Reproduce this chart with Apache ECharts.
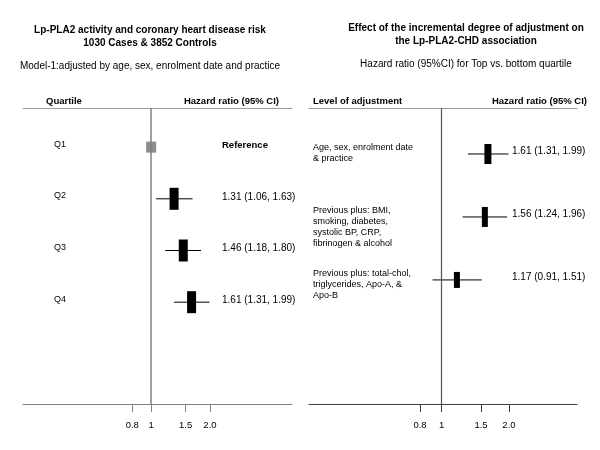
<!DOCTYPE html>
<html>
<head>
<meta charset="utf-8">
<script src="https://cdn.jsdelivr.net/npm/echarts@6/dist/echarts.min.js"></script>
<style>
  html, body { margin: 0; padding: 0; background: #fff; }
  #chart { width: 600px; height: 450px; }
</style>
</head>
<body>
<div id="chart"></div>
<script>
// left panel: quartiles of Lp-PLA2 activity
const quartiles = ['Q1', 'Q2', 'Q3', 'Q4'];
const qHR = [1, 1.31, 1.46, 1.61];
const qLow = [null, 1.06, 1.18, 1.31];
const qHigh = [null, 1.63, 1.80, 1.99];
const qText = ['Reference', '1.31 (1.06, 1.63)', '1.46 (1.18, 1.80)', '1.61 (1.31, 1.99)'];

// right panel: degree of adjustment
const levels = [
  'Age, sex, enrolment date\n& practice',
  'Previous plus: BMI,\nsmoking, diabetes,\nsystolic BP, CRP,\nfibrinogen & alcohol',
  'Previous plus: total-chol,\ntriglycerides, Apo-A, &\nApo-B'
];
const adjHR = [1.61, 1.56, 1.17];
const adjLow = [1.31, 1.24, 0.91];
const adjHigh = [1.99, 1.96, 1.51];
const adjText = ['1.61 (1.31, 1.99)', '1.56 (1.24, 1.96)', '1.17 (0.91, 1.51)'];

// x axis ticks
const tickValues = [0.8, 1, 1.5, 2];
const tickLabels = ['0.8', '1', '1.5', '2.0'];

// box sizes (px) - weights in the original plot
const qBox = [[10, 11], [9, 22], [9, 22], [9, 22]];
const adjBox = [[7, 20], [6, 20], [6, 16]];

const FONT = '"Liberation Sans", Arial, sans-serif';

const rowData = (hr, lo, hi) => hr.map((v, i) => [i, v, lo[i] == null ? '-' : lo[i], hi[i] == null ? '-' : hi[i]]);

// draws whisker, box, row label and hr text for one row
function forestRender(cfg) {
  return function (params, api) {
    const i = params.dataIndex;
    const cs = params.coordSys;
    const row = api.value(0);
    const mid = api.coord([api.value(1), row]);
    const lo = api.value(2), hi = api.value(3);
    const kids = [];
    const hasCI = isFinite(lo) && isFinite(hi);
    if (hasCI) {
      const a = api.coord([lo, row]);
      const b = api.coord([hi, row]);
      kids.push({
        type: 'line',
        shape: { x1: a[0], y1: a[1], x2: b[0], y2: b[1] },
        style: { stroke: '#000', lineWidth: 1 }
      });
    }
    const w = cfg.box[i][0], h = cfg.box[i][1];
    kids.push({
      type: 'rect',
      shape: { x: mid[0] - w / 2, y: mid[1] - h / 2, width: w, height: h },
      style: { fill: hasCI ? '#000' : '#8c8c8c' }
    });
    kids.push({
      type: 'text',
      x: cs.x + cfg.labelX,
      y: mid[1] + cfg.labelDy,
      style: {
        text: cfg.labels[i], fill: '#000', fontSize: 9, fontFamily: FONT,
        align: 'left', verticalAlign: cfg.labelVA, lineHeight: 11
      }
    });
    kids.push({
      type: 'text',
      x: cs.x + cfg.hrX,
      y: mid[1] + cfg.hrDy,
      style: {
        text: cfg.hrText[i], fill: '#000', fontFamily: FONT,
        fontSize: hasCI ? 10 : 9.5, fontWeight: hasCI ? 'normal' : 'bold',
        align: 'left', verticalAlign: 'middle'
      }
    });
    return { type: 'group', children: kids };
  };
}

function bottomAxis(grid, min, max, color) {
  return {
    type: 'log', logBase: 10, gridIndex: grid, min: min, max: max, position: 'bottom',
    axisLine: { onZero: false, lineStyle: { color: color, width: 1 } },
    axisTick: { customValues: tickValues, length: 8, lineStyle: { color: color } },
    axisLabel: {
      customValues: tickValues, margin: 16, color: '#000', fontSize: 9.5, fontFamily: FONT,
      formatter: v => {
        const k = tickValues.findIndex(t => Math.abs(t - v) < 1e-6);
        return k < 0 ? '' : tickLabels[k];
      }
    },
    splitLine: { show: false },
    minorTick: { show: false }
  };
}

function topAxis(grid, min, max) {
  return {
    type: 'log', logBase: 10, gridIndex: grid, min: min, max: max, position: 'top',
    axisLine: { onZero: false, lineStyle: { color: '#9a9a9a', width: 1 } },
    axisTick: { show: false }, axisLabel: { show: false }, splitLine: { show: false }
  };
}

const titleStyle = (size, weight, lh) => ({ fontSize: size, fontWeight: weight, fontFamily: FONT, color: '#000', lineHeight: lh });

const chart = echarts.init(document.getElementById('chart'));

const option = {
  animation: false,
  backgroundColor: '#fff',
  title: [
    { text: 'Lp-PLA2 activity and coronary heart disease risk\n1030 Cases & 3852 Controls', left: 150, top: 23.5, textAlign: 'center', padding: 0, textStyle: titleStyle(10, 'bold', 13) },
    { text: 'Model-1:adjusted by age, sex, enrolment date and practice', left: 150, top: 60.5, textAlign: 'center', padding: 0, textStyle: titleStyle(10, 'normal', 12) },
    { text: 'Quartile', left: 46, top: 95, padding: 0, textStyle: titleStyle(9.5, 'bold', 12) },
    { text: 'Hazard ratio (95% CI)', right: 321, top: 95, padding: 0, textStyle: titleStyle(9.5, 'bold', 12) },
    { text: 'Effect of the incremental degree of adjustment on\nthe Lp-PLA2-CHD association', left: 466, top: 21.5, textAlign: 'center', padding: 0, textStyle: titleStyle(10, 'bold', 13) },
    { text: 'Hazard ratio (95%CI) for Top vs. bottom quartile', left: 466, top: 58.5, textAlign: 'center', padding: 0, textStyle: titleStyle(10, 'normal', 12) },
    { text: 'Level of adjustment', left: 313, top: 95, padding: 0, textStyle: titleStyle(9.5, 'bold', 12) },
    { text: 'Hazard ratio (95% CI)', right: 13, top: 95, padding: 0, textStyle: titleStyle(9.5, 'bold', 12) }
  ],
  grid: [
    { left: 23, right: 308, top: 108, bottom: 46 },
    { left: 309, right: 23, top: 108, bottom: 46 }
  ],
  xAxis: [
    bottomAxis(0, 0.2207, 5.26, '#808080'),
    topAxis(0, 0.2207, 5.26),
    bottomAxis(1, 0.255, 4.03, '#404040'),
    topAxis(1, 0.255, 4.03)
  ],
  yAxis: [
    { type: 'value', gridIndex: 0, inverse: true, min: -0.757, max: 4.97, show: false },
    { type: 'value', gridIndex: 1, inverse: true, min: -0.73, max: 3.97, show: false }
  ],
  series: [
    {
      type: 'custom',
      xAxisIndex: 0, yAxisIndex: 0,
      encode: { x: [1, 2, 3], y: 0 },
      data: rowData(qHR, qLow, qHigh),
      renderItem: forestRender({ box: qBox, labels: quartiles, hrText: qText, labelX: 31, labelDy: -3, labelVA: 'middle', hrX: 199, hrDy: -2 }),
      markLine: {
        silent: true, symbol: 'none', label: { show: false },
        lineStyle: { color: '#808080', width: 1.5, type: 'solid' },
        data: [{ xAxis: 1 }]
      }
    },
    {
      type: 'custom',
      xAxisIndex: 2, yAxisIndex: 1,
      encode: { x: [1, 2, 3], y: 0 },
      data: rowData(adjHR, adjLow, adjHigh),
      renderItem: forestRender({ box: adjBox, labels: levels, hrText: adjText, labelX: 4, labelDy: -11.5, labelVA: 'top', hrX: 203, hrDy: -3 }),
      markLine: {
        silent: true, symbol: 'none', label: { show: false },
        lineStyle: { color: '#555', width: 1.2, type: 'solid' },
        data: [{ xAxis: 1 }]
      }
    }
  ]
};

chart.setOption(option);
</script>
</body>
</html>
